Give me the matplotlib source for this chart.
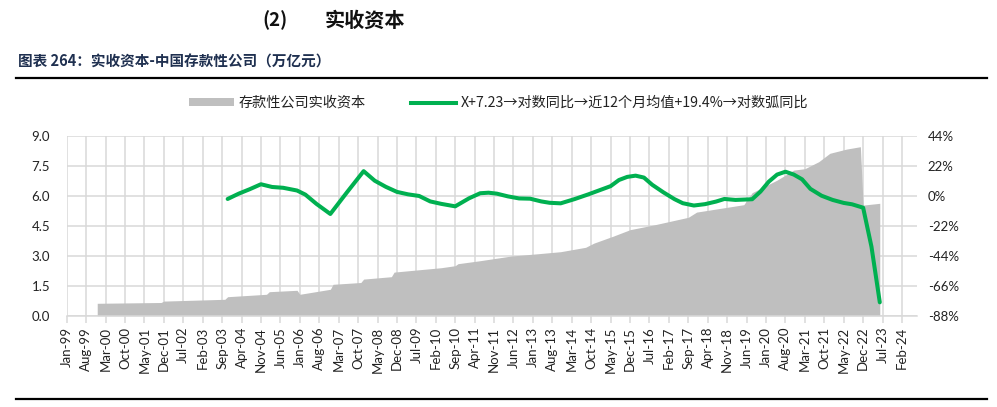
import matplotlib
matplotlib.use("Agg")
import matplotlib.pyplot as plt
from matplotlib.lines import Line2D
from matplotlib.patches import Patch

plt.rcParams['font.family'] = ['Noto Sans CJK SC', 'DejaVu Sans']

# ---------------- data ----------------
area_dates = ["1999-12", "2001-11", "2001-12", "2003-10", "2003-11", "2005-01", "2005-02",
              "2005-12", "2006-01", "2006-12", "2007-01", "2007-11", "2007-12", "2008-10",
              "2008-11", "2010-04", "2010-09", "2010-10", "2011-06", "2012-05", "2013-03",
              "2013-11", "2014-08", "2014-11", "2015-06", "2015-12", "2016-09", "2017-09",
              "2017-12", "2019-05", "2019-08", "2020-05", "2020-11", "2021-03", "2021-08",
              "2021-12", "2022-06", "2022-11", "2022-12", "2023-06"]
area_values = [0.62, 0.66, 0.73, 0.82, 0.95, 1.07, 1.20,
               1.27, 1.07, 1.32, 1.57, 1.66, 1.83, 1.95,
               2.18, 2.40, 2.50, 2.60, 2.75, 2.98, 3.10,
               3.20, 3.42, 3.63, 3.98, 4.30, 4.55, 4.92,
               5.18, 5.55, 6.15, 6.78, 7.28, 7.35, 7.70,
               8.12, 8.33, 8.45, 5.53, 5.62]

line_dates = ["2003-11", "2004-03", "2004-07", "2004-11", "2005-03", "2005-07", "2005-12",
              "2006-03", "2006-07", "2006-12", "2007-06", "2007-12", "2008-04", "2008-08",
              "2008-12", "2009-04", "2009-08", "2009-12", "2010-04", "2010-09", "2011-02",
              "2011-06", "2011-09", "2011-12", "2012-04", "2012-08", "2012-12", "2013-04",
              "2013-07", "2013-11", "2014-04", "2014-09", "2015-01", "2015-05", "2015-08",
              "2015-11", "2016-02", "2016-05", "2016-08", "2016-12", "2017-04", "2017-07",
              "2017-11", "2018-03", "2018-07", "2018-10", "2019-02", "2019-08", "2019-11",
              "2020-02", "2020-05", "2020-08", "2020-11", "2021-02", "2021-05", "2021-09",
              "2022-01", "2022-05", "2022-08", "2022-12", "2023-03", "2023-06"]
line_values = [-2.4, 1.5, 4.8, 8.4, 6.4, 5.8, 3.8,
               0.8, -6.0, -13.4, 2.5, 18.0, 11.0, 6.5,
               2.8, 1.0, -0.2, -4.2, -6.0, -7.8, -1.9,
               1.8, 2.2, 1.5, -0.5, -2.0, -2.2, -4.2,
               -5.2, -5.6, -2.5, 1.0, 4.0, 7.0, 11.5,
               13.8, 14.7, 13.3, 8.0, 2.5, -2.5, -5.5,
               -7.2, -6.2, -4.3, -2.4, -3.1, -2.6, 3.0,
               10.3, 15.5, 17.6, 15.5, 12.0, 5.0, 0.0,
               -3.1, -5.3, -6.3, -8.8, -37.4, -78.2]

tick_labels = ["Jan-99", "Aug-99", "Mar-00", "Oct-00", "May-01", "Dec-01", "Jul-02", "Feb-03",
               "Sep-03", "Apr-04", "Nov-04", "Jun-05", "Jan-06", "Aug-06", "Mar-07", "Oct-07",
               "May-08", "Dec-08", "Jul-09", "Feb-10", "Sep-10", "Apr-11", "Nov-11", "Jun-12",
               "Jan-13", "Aug-13", "Mar-14", "Oct-14", "May-15", "Dec-15", "Jul-16", "Feb-17",
               "Sep-17", "Apr-18", "Nov-18", "Jun-19", "Jan-20", "Aug-20", "Mar-21", "Oct-21",
               "May-22", "Dec-22", "Jul-23", "Feb-24"]

left_ticks = [0.0, 1.5, 3.0, 4.5, 6.0, 7.5, 9.0]
right_ticks = [-88, -66, -44, -22, 0, 22, 44]

area_label = "存款性公司实收资本"
line_label = "X+7.23→对数同比→近12个月均值+19.4%→对数弧同比"


def month_index(s):
    y, m = s.split("-")
    return (int(y) - 1999) * 12 + int(m) - 1


mon_lookup = {"Jan": 1, "Feb": 2, "Mar": 3, "Apr": 4, "May": 5, "Jun": 6,
              "Jul": 7, "Aug": 8, "Sep": 9, "Oct": 10, "Nov": 11, "Dec": 12}


def label_index(lbl):
    mn, yy = lbl.split("-")
    yr = int(yy)
    yr = 1900 + yr if yr > 50 else 2000 + yr
    return (yr - 1999) * 12 + mon_lookup[mn] - 1


ax_x = [month_index(d) for d in area_dates]
ln_x = [month_index(d) for d in line_dates]
tick_pos = [label_index(t) for t in tick_labels]

GREEN = "#00B050"
GREY = "#BFBFBF"
GRID = "#D9D9D9"
TXT = "#222222"

fig = plt.figure(figsize=(9.97, 4.07), dpi=100)
fig.patch.set_facecolor("white")

L, R, T, B = 66.7 / 997, 916.7 / 997, 1 - 135.7 / 407, 1 - 315.7 / 407
ax = fig.add_axes([L, B, R - L, T - B])
ax.set_xlim(0, 306.3)
ax.set_ylim(0, 9)

ax.fill_between(ax_x, area_values, 0, color=GREY, linewidth=0, zorder=2)

ax.set_yticks(left_ticks)
ax.set_yticklabels([f"{v:.1f}" for v in left_ticks])
ax.set_xticks(tick_pos)
ax.set_xticklabels(tick_labels, rotation=90)
ax.grid(True, color=GRID, linewidth=1.1, zorder=0)
ax.set_axisbelow(True)
for s in ["top", "right", "left"]:
    ax.spines[s].set_visible(False)
ax.spines["bottom"].set_color(GRID)
ax.spines["bottom"].set_linewidth(1.1)
ax.tick_params(axis="y", length=0, pad=12, labelsize=9.5, labelcolor=TXT)
ax.tick_params(axis="x", length=5, color=GRID, width=1.1, pad=3, labelsize=9.5, labelcolor=TXT)
for lbl in ax.get_xticklabels() + ax.get_yticklabels():
    lbl.set_family(["Lato", "DejaVu Sans"])

ax2 = ax.twinx()
ax2.set_ylim(-88, 44)
ax2.set_yticks(right_ticks)
ax2.set_yticklabels([f"{v}%" for v in right_ticks])
ax2.plot(ln_x, line_values, color=GREEN, linewidth=2.9, solid_capstyle="round",
         solid_joinstyle="round", zorder=3)
for s in ["top", "right", "left", "bottom"]:
    ax2.spines[s].set_visible(False)
ax2.tick_params(axis="y", length=0, pad=8, labelsize=9.5, labelcolor=TXT)
for lbl in ax2.get_yticklabels():
    lbl.set_family(["Lato", "DejaVu Sans"])

# legend
handles = [Patch(facecolor=GREY, edgecolor="none"),
           Line2D([0], [0], color=GREEN, linewidth=2.9)]
leg = fig.legend(handles, [area_label, line_label], loc="center", ncol=2,
                 bbox_to_anchor=(0.5, 1 - 103 / 407), frameon=False, fontsize=10.2,
                 handlelength=3.2, handleheight=0.45, columnspacing=3.2, handletextpad=0.3)
for t in leg.get_texts():
    t.set_color(TXT)

# header texts
fig.text(262 / 997, 1 - 20 / 407, "(2)", fontsize=13.5, fontweight="bold", va="center",
         ha="left", color="#111111")
fig.text(325 / 997, 1 - 20 / 407, "实收资本", fontsize=14.5, fontweight="bold", va="center",
         ha="left", color="#111111")
fig.text(18 / 997, 1 - 62 / 407, "图表 264：实收资本-中国存款性公司（万亿元）", fontsize=10.5,
         fontweight="bold", va="center", ha="left", color="#1F3050")

fig.add_artist(Line2D([16 / 997, 987 / 997], [1 - 77.7 / 407, 1 - 77.7 / 407],
                      color="black", linewidth=1.6, transform=fig.transFigure))
fig.add_artist(Line2D([16 / 997, 987 / 997], [1 - 399.3 / 407, 1 - 399.3 / 407],
                      color="black", linewidth=1.6, transform=fig.transFigure))

fig.savefig("out.png", dpi=100)
